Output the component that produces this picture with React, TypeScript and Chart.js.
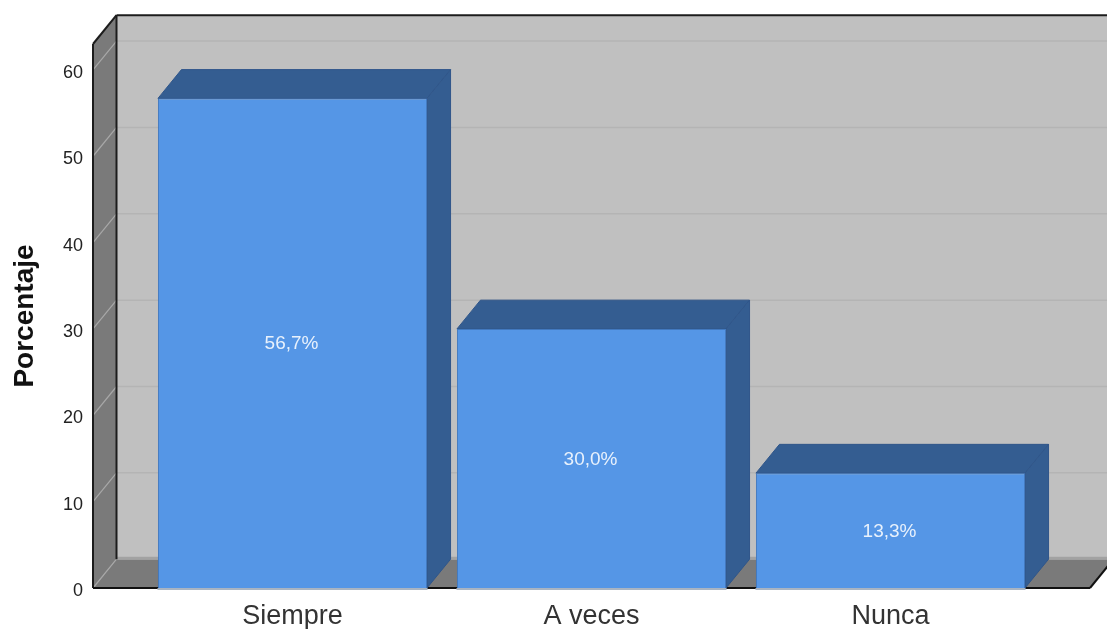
import React, { useEffect, useRef } from "react";
import { Chart, registerables } from "chart.js";

Chart.register(...registerables);

const categories = ["Siempre", "A veces", "Nunca"];
const values = [56.7, 30.0, 13.3];
const valueLabels = ["56,7%", "30,0%", "13,3%"];
const yTicks = [0, 10, 20, 30, 40, 50, 60];
const yMax = 63;
const yTitle = "Porcentaje";

const DX = 23.5;
const DY = 28.8;
const WALL_INSET = 50;
const FONT = "'Liberation Sans', Arial, sans-serif";

function poly(ctx: CanvasRenderingContext2D, pts: number[][], fill: string | null, stroke?: string, lw = 1) {
  ctx.beginPath();
  pts.forEach((p, i) => (i ? ctx.lineTo(p[0], p[1]) : ctx.moveTo(p[0], p[1])));
  ctx.closePath();
  if (fill) {
    ctx.fillStyle = fill;
    ctx.fill();
  }
  if (stroke) {
    ctx.strokeStyle = stroke;
    ctx.lineWidth = lw;
    ctx.stroke();
  }
}

function line(ctx: CanvasRenderingContext2D, a: number[], b: number[], color: string, lw: number) {
  ctx.beginPath();
  ctx.moveTo(a[0], a[1]);
  ctx.lineTo(b[0], b[1]);
  ctx.strokeStyle = color;
  ctx.lineWidth = lw;
  ctx.stroke();
}

function clearPadding(scale: any) {
  scale.paddingTop = 0;
  scale.paddingBottom = 0;
  scale.paddingLeft = 0;
  scale.paddingRight = 0;
}

const box3d = {
  id: "box3d",
  beforeDatasetsDraw(chart: any) {
    const { ctx, chartArea, scales } = chart;
    const y = scales.y;
    const l = chartArea.left - WALL_INSET;
    const r = chartArea.right + WALL_INSET;
    const t = chartArea.top;
    const b = chartArea.bottom;
    ctx.save();
    // back wall
    poly(ctx, [[l + DX, t - DY], [r + DX, t - DY], [r + DX, b - DY], [l + DX, b - DY]], "#c0c0c0");
    // floor
    poly(ctx, [[l, b], [l + DX, b - DY], [r + DX, b - DY], [r, b]], "#7a7a7a");
    line(ctx, [l + DX, b - DY - 1], [r + DX, b - DY - 1], "#a2a2a2", 3);
    // left wall
    poly(ctx, [[l, t], [l + DX, t - DY], [l + DX, b - DY], [l, b]], "#7a7a7a");
    // grid lines
    yTicks.forEach((v) => {
      const py = y.getPixelForValue(v);
      if (v > 0) line(ctx, [l + DX, py - DY], [r + DX, py - DY], "#b4b4b4", 1.5);
      line(ctx, [l, py], [l + DX, py - DY], "#a8a8a8", 1.2);
    });
    // frame
    line(ctx, [l + DX, t - DY], [r + DX, t - DY], "#1c1c1c", 2);
    line(ctx, [l + DX, t - DY], [l + DX, b - DY], "#1c1c1c", 2);
    line(ctx, [l, t], [l + DX, t - DY], "#1c1c1c", 2);
    line(ctx, [l, t], [l, b], "#1c1c1c", 2);
    line(ctx, [l, b], [r, b], "#111111", 2);
    line(ctx, [r, b], [r + DX, b - DY], "#111111", 2);
    // bar depth faces
    chart.getDatasetMeta(0).data.forEach((bar: any) => {
      const p = bar.getProps(["x", "y", "base", "width"], true);
      const x0 = p.x - p.width / 2;
      const x1 = p.x + p.width / 2;
      poly(ctx, [[x0, p.y], [x0 + DX, p.y - DY], [x1 + DX, p.y - DY], [x1, p.y]], "#345d91", "#30568a", 1);
      poly(ctx, [[x1, p.y], [x1 + DX, p.y - DY], [x1 + DX, p.base - DY], [x1, p.base]], "#345d91", "#30568a", 1);
    });
    ctx.restore();
  },
  afterDatasetsDraw(chart: any) {
    const { ctx } = chart;
    ctx.save();
    chart.getDatasetMeta(0).data.forEach((bar: any) => {
      const p = bar.getProps(["x", "base", "width"], true);
      line(ctx, [p.x - p.width / 2 - 0.5, p.base + 1], [p.x + p.width / 2 + 0.5, p.base + 1], "#a9b4c2", 2);
    });
    ctx.font = `19px ${FONT}`;
    ctx.fillStyle = "#e8f1fc";
    ctx.textAlign = "center";
    ctx.textBaseline = "middle";
    chart.getDatasetMeta(0).data.forEach((bar: any, i: number) => {
      const p = bar.getProps(["x", "y", "base"], true);
      ctx.fillText(valueLabels[i], p.x - 1, (p.y + p.base) / 2 + 1);
    });
    ctx.restore();
  },
};

export default function App() {
  const ref = useRef<HTMLCanvasElement>(null);
  useEffect(() => {
    const chart = new Chart(ref.current as HTMLCanvasElement, {
      type: "bar",
      data: {
        labels: categories,
        datasets: [
          {
            data: values,
            backgroundColor: "#5596e6",
            borderColor: "#4279bf",
            borderWidth: 1,
            barPercentage: 0.9,
            categoryPercentage: 1,
          },
        ],
      },
      options: {
        animation: false,
        responsive: false,
        layout: { autoPadding: false, padding: { top: 44, right: 67, left: 0, bottom: 0 } },
        plugins: { legend: { display: false }, tooltip: { enabled: false }, title: { display: false } },
        scales: {
          x: {
            grid: { display: false },
            border: { display: false },
            ticks: {
              font: { family: FONT, size: 27 },
              color: "#333333",
              padding: 4,
              maxRotation: 0,
              autoSkip: false,
            },
            afterFit(scale: any) {
              scale.height = 41;
              clearPadding(scale);
            },
          },
          y: {
            min: 0,
            max: yMax,
            grid: { display: false, drawTicks: false },
            border: { display: false },
            title: {
              display: true,
              text: yTitle,
              font: { family: FONT, size: 28, weight: "bold" },
              color: "#111111",
              padding: { top: 8, bottom: 0 },
            },
            ticks: {
              font: { family: FONT, size: 18 },
              color: "#222222",
              padding: 60,
              labelOffset: 3,
            },
            afterBuildTicks(scale: any) {
              scale.ticks = yTicks.map((value) => ({ value }));
            },
            afterFit(scale: any) {
              scale.width = 143;
              clearPadding(scale);
            },
          },
        },
      },
      plugins: [box3d],
    } as any);
    return () => chart.destroy();
  }, []);
  return (
    <div style={{ position: "absolute", left: 0, top: 0, width: 1107, height: 629, overflow: "hidden" }}>
      <canvas ref={ref} width={1107} height={629} style={{ display: "block" }} />
    </div>
  );
}
